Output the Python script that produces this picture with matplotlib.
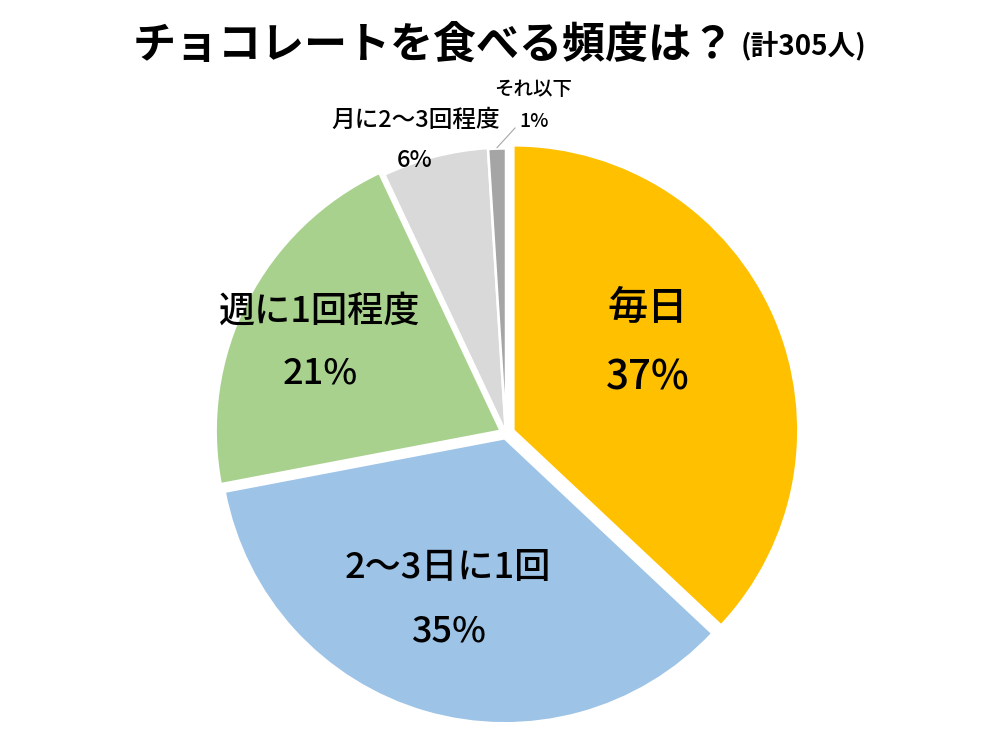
import numpy as np
import matplotlib
matplotlib.use("Agg")
import matplotlib.pyplot as plt

plt.rcParams['font.family'] = ['Noto Sans CJK JP', 'DejaVu Sans']

# Data
categories = ['毎日', '2〜3日に1回', '週に1回程度', '月に2〜3回程度', 'それ以下']
values = [37, 35, 21, 6, 1]
pct_labels = ['37%', '35%', '21%', '6%', '1%']
colors = ['#FFC000', '#9DC3E6', '#A9D18E', '#D9D9D9', '#A5A5A5']
title = 'チョコレートを食べる頻度は？'
subtitle = '(計305人)'

W, H = 998, 737
fig = plt.figure(figsize=(W / 100, H / 100), dpi=100)
ax = fig.add_axes([0, 0, 1, 1])

# geometry in pixel units (axes spans the whole figure)
cx, cy, R = 506, H - 433.5, 285
explode_px = [8, 5, 6, 1, 0]
wedges, _ = ax.pie(values, colors=colors, startangle=90, counterclock=False,
                   center=(cx, cy), radius=R, explode=explode_px,
                   wedgeprops=dict(edgecolor='white', linewidth=1.8))
ax.set_xlim(0, W)
ax.set_ylim(0, H)
ax.set_aspect('equal')
ax.axis('off')


def P(x, y):
    return x, H - y

fw = 'medium'
# large labels
ax.text(*P(648, 308), categories[0], fontsize=29, fontweight=fw, ha='center', va='center')
ax.text(*P(648, 378), pct_labels[0], fontsize=29, fontweight=fw, ha='center', va='center')
ax.text(*P(448, 568), categories[1], fontsize=26, fontweight=fw, ha='center', va='center')
ax.text(*P(448, 632), pct_labels[1], fontsize=26, fontweight=fw, ha='center', va='center')
ax.text(*P(320, 312), categories[2], fontsize=26, fontweight=fw, ha='center', va='center')
ax.text(*P(320, 373), pct_labels[2], fontsize=26, fontweight=fw, ha='center', va='center')

# small labels
ax.text(*P(416, 120), categories[3], fontsize=17, fontweight=fw, ha='center', va='center')
ax.text(*P(415, 160), pct_labels[3], fontsize=17, fontweight=fw, ha='center', va='center')
ax.text(*P(533, 89), categories[4], fontsize=14, fontweight=fw, ha='center', va='center')
ax.text(*P(519, 121), pct_labels[4], fontsize=14, fontweight=fw, ha='left', va='center')

# leader line for smallest slice
w = wedges[4]
mid = np.deg2rad((w.theta1 + w.theta2) / 2)
sx, sy = w.center[0] + R * np.cos(mid), w.center[1] + R * np.sin(mid)
ax.plot([sx, 515], [sy + 1, H - 128], color='#A6A6A6', lw=0.8)

# title
fig.text(133 / W, 1 - 45 / H, title, fontsize=31, fontweight='bold', ha='left', va='center')
fig.text(741 / W, 1 - 47 / H, subtitle, fontsize=20, fontweight='bold', ha='left', va='center')

fig.savefig('out.png', dpi=100)
